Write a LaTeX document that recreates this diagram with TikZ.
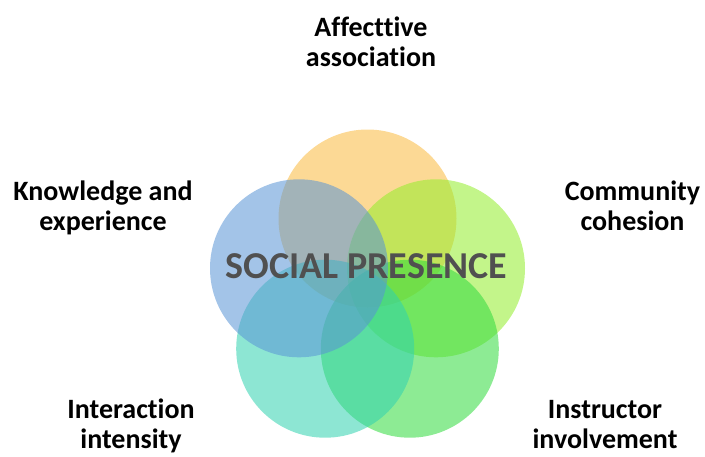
\documentclass[tikz,border=0pt]{standalone}
\usepackage{fontspec}
\setmainfont{Carlito}[Ligatures={NoCommon}]
\definecolor{corange}{RGB}{250,186,62}
\definecolor{cblue}{RGB}{88,148,213}
\definecolor{clime}{RGB}{146,237,42}
\definecolor{cteal}{RGB}{48,210,175}
\definecolor{cgreen}{RGB}{48,219,61}
\definecolor{ctitle}{RGB}{80,80,80}
\begin{document}
\begin{tikzpicture}[x=1pt,y=-1pt,
  petal/.style={circle,minimum size=178pt,inner sep=0pt,fill opacity=0.55,draw=none},
  lbl/.style={align=center,font=\bfseries\fontsize{28}{30}\selectfont,inner sep=0pt,anchor=base},
  title/.style={font=\bfseries\fontsize{38}{40}\selectfont,text=ctitle,inner sep=0pt,anchor=base}]
\useasboundingbox (0,0) rectangle (705,456);
\node[petal,fill=corange] (top) at (367.5,218.5) {};
\node[petal,fill=clime] (ur) at (436,268.3) {};
\node[petal,fill=cgreen] (lr) at (409.8,348.7) {};
\node[petal,fill=cteal] (ll) at (325.2,348.7) {};
\node[petal,fill=cblue] (ul) at (299,268.3) {};
\node[title] (sp) at (366.5,278) {SOCIAL PRESENCE};
\node[lbl] (aff) at (371,66) {Affecttive\\association};
\node[lbl] (know) at (103,230) {Knowledge and\\experience};
\node[lbl] (comm) at (632.5,230) {Community\\cohesion};
\node[lbl] (inter) at (131,448) {Interaction\\intensity};
\node[lbl] (instr) at (605,448) {Instructor\\involvement};
\end{tikzpicture}
\end{document}
